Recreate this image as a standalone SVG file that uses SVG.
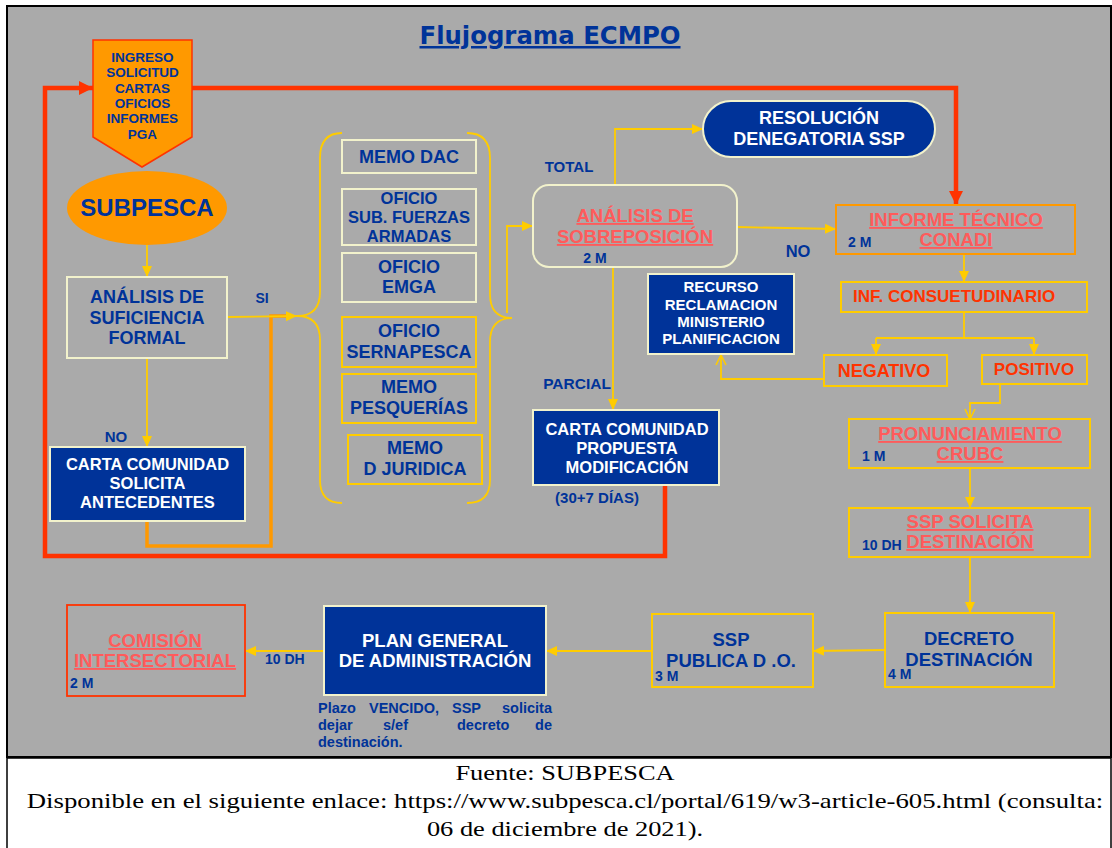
<svg xmlns="http://www.w3.org/2000/svg" width="1112" height="848" viewBox="0 0 1112 848">
<style>
.t{font-family:"Liberation Sans",Arial,sans-serif;font-weight:bold;text-anchor:middle}
.s{text-anchor:start}
.e{text-anchor:end}
.bl{fill:#003399}
.w{fill:#ffffff}
.p{fill:#ff5b5b;text-decoration:underline}
.r{fill:#ff3300}
.cream{fill:none;stroke:#f2f2cc;stroke-width:2}
.yel{fill:none;stroke:#ffcc00;stroke-width:2}
.blue{fill:#003399;stroke:#f2f2cc;stroke-width:2}
.yl{fill:none;stroke:#ffcc00;stroke-width:1.8}
.red{fill:none;stroke:#ff3300;stroke-width:4.5}
.cap{font-family:"Liberation Serif","Times New Roman",serif;font-size:22px;fill:#000;text-anchor:middle}
</style>
<defs>
<marker id="ay" markerUnits="userSpaceOnUse" markerWidth="12" markerHeight="12" viewBox="0 0 12 12" refX="11" refY="6" orient="auto"><path d="M0,1 L11,6 L0,11 Z" fill="#ffcc00"/></marker>
<marker id="ao" markerUnits="userSpaceOnUse" markerWidth="12" markerHeight="12" viewBox="0 0 12 12" refX="11" refY="6" orient="auto"><path d="M1,1 L11,6 L1,11" fill="none" stroke="#ffcc00" stroke-width="1.6"/></marker>
<marker id="ar" markerUnits="userSpaceOnUse" markerWidth="15" markerHeight="15" viewBox="0 0 15 15" refX="14" refY="7.5" orient="auto"><path d="M0,0.5 L14,7.5 L0,14.5 Z" fill="#ff3300"/></marker>
</defs>
<rect x="7" y="6" width="1104" height="751" fill="#aaaaaa" stroke="#000" stroke-width="2"/>
<rect x="7" y="758" width="1104" height="92" fill="#ffffff" stroke="#000" stroke-width="1.5"/>
<text x="550" y="44" font-family="DejaVu Sans,Verdana,sans-serif" font-weight="bold" font-size="25" fill="#003399" text-anchor="middle" textLength="261" lengthAdjust="spacingAndGlyphs" text-decoration="underline">Flujograma ECMPO</text>

<g id="connectors">
<path class="red" d="M665,473 L665,556 L45,556 L45,88 L93,88" marker-end="url(#ar)"/>
<path class="red" d="M192,88 L956,88 L956,205" marker-end="url(#ar)"/>
<path class="yl" d="M147,245 L147,277" marker-end="url(#ay)"/>
<path class="yl" d="M147,358 L147,447" marker-end="url(#ay)"/>
<path fill="none" stroke="#ff9900" stroke-width="3.5" d="M147,521 L147,546 L271,546 L271,316 L287,316"/>
<path class="yl" d="M227,317 L297,316" marker-end="url(#ay)"/>
<path class="yl" d="M342,133 Q320,133 320,158 L320,292 Q320,316 297,316 Q320,316 320,340 L320,480 Q320,503 342,503"/>
<path class="yl" d="M467,133 Q490,133 490,158 L490,294 Q490,318 512,318 Q490,318 490,342 L490,480 Q490,503 467,503"/>
<path class="yl" d="M507,313 L507,226 L533,226" marker-end="url(#ay)"/>
<path class="yl" d="M615,185 L615,129 L703,129" marker-end="url(#ay)"/>
<path class="yl" d="M613,267 L613,410" marker-end="url(#ay)"/>
<path class="yl" d="M737,227 L836,229" marker-end="url(#ay)"/>
<path class="yl" d="M964,254 L964,282" marker-end="url(#ay)"/>
<path class="yl" d="M964,312 L964,338 M876,338 L1034,338"/>
<path class="yl" d="M876,338 L876,355" marker-end="url(#ay)"/>
<path class="yl" d="M1034,338 L1034,355" marker-end="url(#ay)"/>
<path class="yl" d="M824,379 L721,379 L721,355" marker-end="url(#ao)"/>
<path class="yl" d="M1000,384 L1000,403 L970,403 L970,419" marker-end="url(#ao)"/>
<path class="yl" d="M970,468 L970,508" marker-end="url(#ay)"/>
<path class="yl" d="M970,557 L970,613" marker-end="url(#ay)"/>
<path class="yl" d="M885,650 L813,651" marker-end="url(#ay)"/>
<path class="yl" d="M652,651 L546,651" marker-end="url(#ay)"/>
<path class="yl" d="M324,651 L245,651" marker-end="url(#ay)"/>
</g>

<g id="ingreso">
<path d="M93,40 L192,40 L192,137 L142,167 L93,137 Z" fill="#ff9900" stroke="#ff3300" stroke-width="1.5"/>
<g class="t bl" font-size="13.5">
<text x="142.5" y="62">INGRESO</text>
<text x="142.5" y="77">SOLICITUD</text>
<text x="142.5" y="93">CARTAS</text>
<text x="142.5" y="108">OFICIOS</text>
<text x="142.5" y="123">INFORMES</text>
<text x="142.5" y="139">PGA</text>
</g>
</g>

<g id="subpesca">
<ellipse cx="147" cy="208" rx="80" ry="37" fill="#ff9900"/>
<text class="t bl" x="147" y="216" font-size="24">SUBPESCA</text>
</g>

<g id="analisis-suficiencia">
<rect class="cream" x="67" y="277" width="160" height="81"/>
<g class="t bl" font-size="18">
<text x="147" y="303">ANÁLISIS DE</text>
<text x="147" y="324">SUFICIENCIA</text>
<text x="147" y="344">FORMAL</text>
</g>
</g>
<text class="t bl" x="262" y="303" font-size="14">SI</text>
<text class="t bl" x="116" y="442" font-size="15">NO</text>

<g id="carta-solicita">
<rect class="blue" x="50" y="447" width="195" height="74"/>
<g class="t w" font-size="16.5">
<text x="147.5" y="470">CARTA COMUNIDAD</text>
<text x="147.5" y="489">SOLICITA</text>
<text x="147.5" y="508">ANTECEDENTES</text>
</g>
</g>

<g id="memo-dac">
<rect class="cream" x="342" y="140" width="134" height="33"/>
<text class="t bl" x="409" y="163" font-size="18">MEMO DAC</text>
</g>
<g id="oficio-fuerzas">
<rect class="cream" x="342" y="189" width="134" height="56"/>
<g class="t bl" font-size="16.5">
<text x="409" y="204">OFICIO</text>
<text x="409" y="223">SUB. FUERZAS</text>
<text x="409" y="242">ARMADAS</text>
</g>
</g>
<g id="oficio-emga">
<rect class="cream" x="342" y="253" width="134" height="49"/>
<g class="t bl" font-size="18">
<text x="409" y="273">OFICIO</text>
<text x="409" y="293">EMGA</text>
</g>
</g>
<g id="oficio-sernapesca">
<rect class="yel" x="342" y="317" width="134" height="50"/>
<g class="t bl" font-size="18">
<text x="409" y="337">OFICIO</text>
<text x="409" y="358">SERNAPESCA</text>
</g>
</g>
<g id="memo-pesquerias">
<rect class="yel" x="342" y="374" width="134" height="49"/>
<g class="t bl" font-size="18">
<text x="409" y="393">MEMO</text>
<text x="409" y="414">PESQUERÍAS</text>
</g>
</g>
<g id="memo-juridica">
<rect class="yel" x="348" y="435" width="134" height="49"/>
<g class="t bl" font-size="18">
<text x="415" y="454">MEMO</text>
<text x="415" y="475">D JURIDICA</text>
</g>
</g>

<g id="analisis-sobreposicion">
<rect class="cream" x="533" y="185" width="204" height="82" rx="16"/>
<g class="t p" font-size="18.5">
<text x="635" y="222">ANÁLISIS DE</text>
<text x="635" y="243">SOBREPOSICIÓN</text>
</g>
<text class="t bl" x="595" y="263" font-size="14">2 M</text>
</g>
<text class="t bl" x="569" y="172" font-size="15">TOTAL</text>
<text class="t bl" x="577" y="389" font-size="15.5">PARCIAL</text>

<g id="resolucion">
<rect class="blue" x="703" y="101" width="232" height="56" rx="28"/>
<g class="t w" font-size="18">
<text x="819" y="124">RESOLUCIÓN</text>
<text x="819" y="145">DENEGATORIA SSP</text>
</g>
</g>
<text class="t bl" x="798" y="257" font-size="16.5">NO</text>

<g id="informe-conadi">
<rect fill="none" stroke="#ff9900" stroke-width="2" x="836" y="205" width="239" height="49"/>
<g class="t p" font-size="18.5">
<text x="956" y="226">INFORME TÉCNICO</text>
<text x="956" y="246">CONADI</text>
</g>
<text class="t s bl" x="848" y="247" font-size="14">2 M</text>
</g>

<g id="inf-consuetudinario">
<rect class="yel" x="841" y="282" width="246" height="30"/>
<text class="t s r" x="853" y="302" font-size="17">INF. CONSUETUDINARIO</text>
</g>
<g id="negativo">
<rect class="yel" x="824" y="355" width="123" height="31"/>
<text class="t r" x="884" y="377" font-size="18">NEGATIVO</text>
</g>
<g id="positivo">
<rect class="yel" x="982" y="355" width="105" height="29"/>
<text class="t r" x="1034" y="375" font-size="17">POSITIVO</text>
</g>

<g id="recurso">
<rect class="blue" x="648" y="274" width="146" height="80"/>
<g class="t w" font-size="15">
<text x="721" y="292">RECURSO</text>
<text x="721" y="310">RECLAMACION</text>
<text x="721" y="327">MINISTERIO</text>
<text x="721" y="344">PLANIFICACION</text>
</g>
</g>

<g id="carta-propuesta">
<rect class="blue" x="533" y="410" width="186" height="75"/>
<g class="t w" font-size="16.5">
<text x="627" y="435">CARTA COMUNIDAD</text>
<text x="627" y="454">PROPUESTA</text>
<text x="627" y="473">MODIFICACIÓN</text>
</g>
<text class="t bl" x="597" y="503" font-size="15">(30+7 DÍAS)</text>
</g>

<g id="pronunciamiento">
<rect class="yel" x="849" y="419" width="241" height="49"/>
<g class="t p" font-size="18.5">
<text x="970" y="440">PRONUNCIAMIENTO</text>
<text x="970" y="460">CRUBC</text>
</g>
<text class="t s bl" x="862" y="461" font-size="14">1 M</text>
</g>

<g id="ssp-solicita">
<rect class="yel" x="849" y="508" width="241" height="49"/>
<g class="t p" font-size="18.5">
<text x="970" y="528">SSP SOLICITA</text>
<text x="970" y="548">DESTINACIÓN</text>
</g>
<text class="t s bl" x="862" y="550" font-size="14">10 DH</text>
</g>

<g id="decreto">
<rect class="yel" x="885" y="613" width="169" height="74"/>
<g class="t bl" font-size="18.5">
<text x="969" y="645">DECRETO</text>
<text x="969" y="666">DESTINACIÓN</text>
</g>
<text class="t s bl" x="888" y="679" font-size="14">4 M</text>
</g>

<g id="ssp-publica">
<rect class="yel" x="652" y="614" width="161" height="73"/>
<g class="t bl" font-size="18.5">
<text x="731" y="646">SSP</text>
<text x="731" y="667">PUBLICA D .O.</text>
</g>
<text class="t s bl" x="655" y="681" font-size="14">3 M</text>
</g>

<g id="plan-general">
<rect class="blue" x="324" y="606" width="222" height="89"/>
<g class="t w" font-size="18.5">
<text x="435" y="647">PLAN GENERAL</text>
<text x="435" y="667">DE ADMINISTRACIÓN</text>
</g>
<g class="t s bl" font-size="14.5">
<text x="318" y="713">Plazo</text>
<text x="369" y="713">VENCIDO,</text>
<text x="452" y="713">SSP</text>
<text class="e" x="552" y="713">solicita</text>
<text x="318" y="730">dejar</text>
<text x="383" y="730">s/ef</text>
<text x="457" y="730">decreto</text>
<text class="e" x="552" y="730">de</text>
<text x="318" y="747">destinación.</text>
</g>
</g>
<text class="t s bl" x="265" y="664" font-size="14">10 DH</text>

<g id="comision">
<rect fill="none" stroke="#ff3300" stroke-width="1.8" x="67" y="605" width="178" height="91"/>
<g class="t p" font-size="18.5">
<text x="155" y="647">COMISIÓN</text>
<text x="155" y="667">INTERSECTORIAL</text>
</g>
<text class="t s bl" x="70" y="688" font-size="14">2 M</text>
</g>

<g id="caption" transform="translate(565,0) scale(1.2,1)">
<text class="cap" x="0" y="780">Fuente: SUBPESCA</text>
<text class="cap" x="0" y="808" textLength="897" lengthAdjust="spacingAndGlyphs">Disponible en el siguiente enlace: https://www.subpesca.cl/portal/619/w3-article-605.html (consulta:</text>
<text class="cap" x="0" y="836">06 de diciembre de 2021).</text>
</g>
</svg>
